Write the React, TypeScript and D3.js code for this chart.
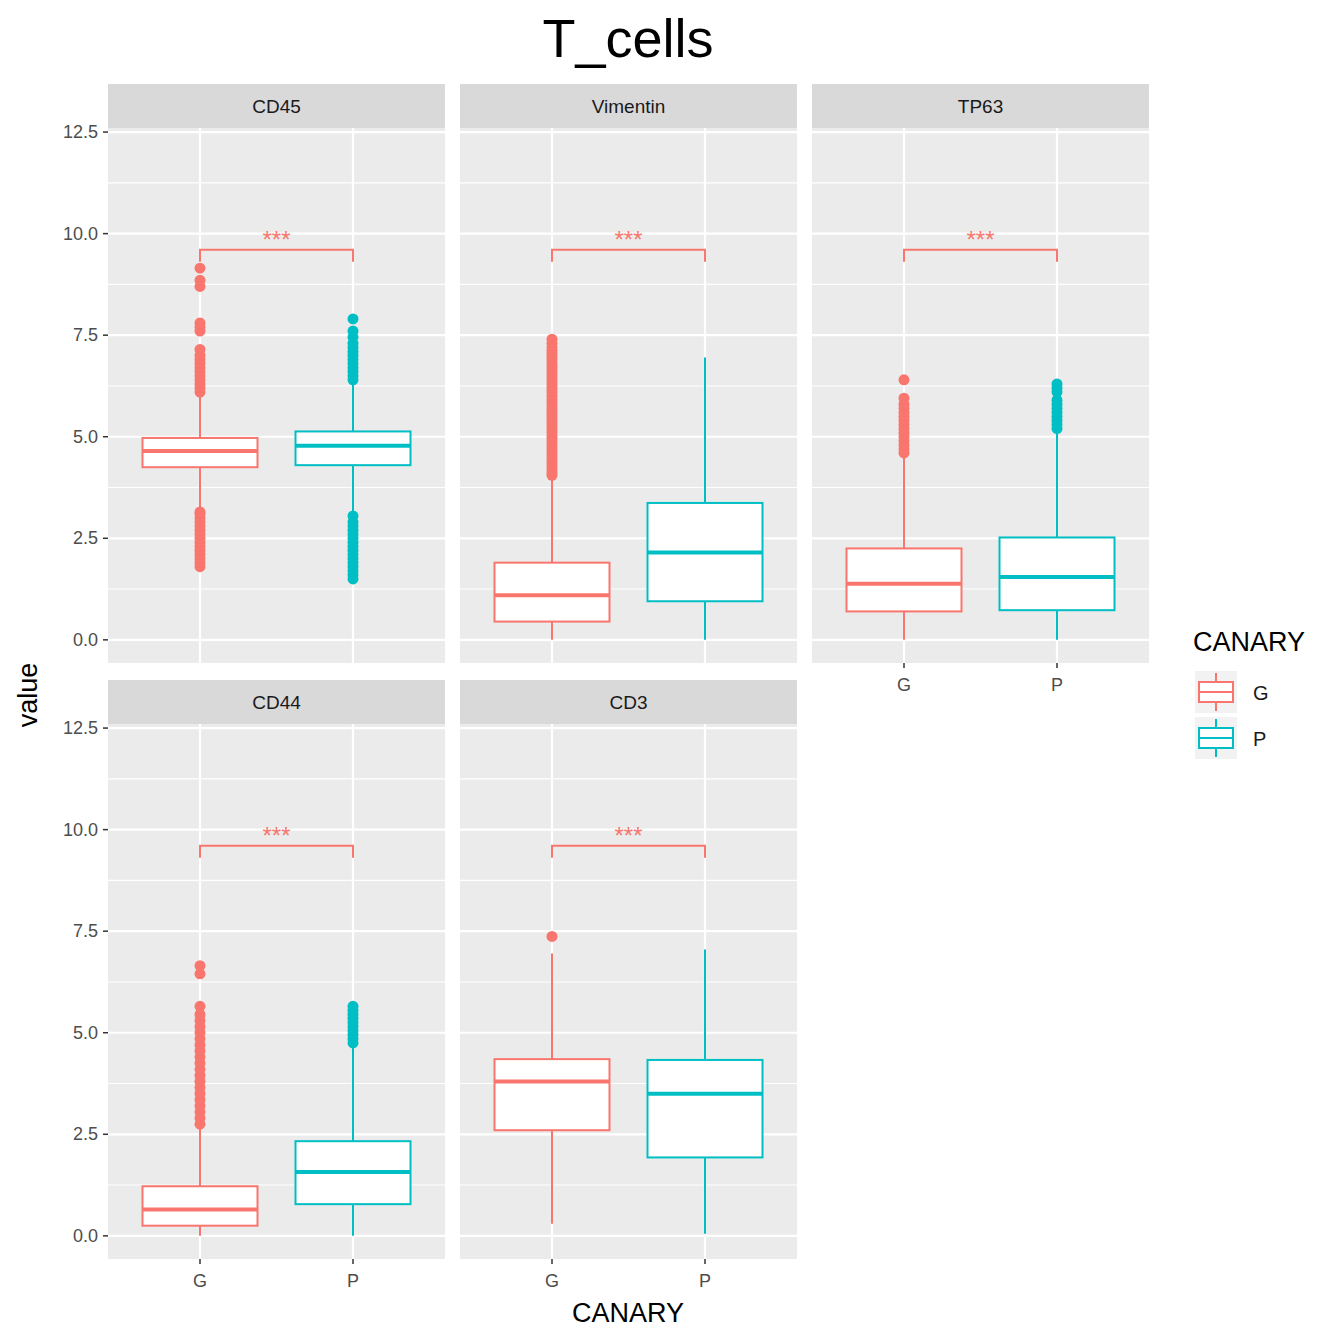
import * as d3 from 'd3';

// ---- data ----
const groups = ['G', 'P'];
const markers = ['CD45', 'Vimentin', 'TP63', 'CD44', 'CD3'];
const yTicks = [0, 2.5, 5, 7.5, 10, 12.5];
const yMinor = [1.25, 3.75, 6.25, 8.75, 11.25];
const signif = ['***', '***', '***', '***', '***'];

// [lowWhisker, q1, median, q3, highWhisker] per marker, G then P
const statsG = [
  [3.2, 4.25, 4.65, 4.97, 6.05],
  [0, 0.45, 1.1, 1.9, 4.0],
  [0, 0.7, 1.38, 2.25, 4.55],
  [0, 0.25, 0.65, 1.22, 2.7],
  [0.3, 2.6, 3.8, 4.35, 6.95],
];
const statsP = [
  [3.1, 4.3, 4.78, 5.13, 6.35],
  [0, 0.95, 2.15, 3.37, 6.95],
  [0, 0.73, 1.55, 2.52, 5.15],
  [0, 0.78, 1.57, 2.33, 4.7],
  [0.05, 1.93, 3.5, 4.33, 7.05],
];
const outliersG = [
  [1.8, 1.9, 2.0, 2.1, 2.2, 2.3, 2.4, 2.5, 2.6, 2.7, 2.8, 2.9, 3.0, 3.1, 3.15,
    6.1, 6.2, 6.3, 6.4, 6.5, 6.6, 6.7, 6.8, 6.9, 7.0, 7.15, 7.6, 7.7, 7.8, 8.7, 8.85, 9.15],
  [4.05, 4.12, 4.2, 4.28, 4.35, 4.42, 4.5, 4.58, 4.65, 4.72, 4.8, 4.88, 4.95, 5.02,
    5.1, 5.18, 5.25, 5.32, 5.4, 5.48, 5.55, 5.62, 5.7, 5.78, 5.85, 5.92, 6.0, 6.08,
    6.15, 6.22, 6.3, 6.38, 6.45, 6.52, 6.6, 6.68, 6.75, 6.82, 6.9, 6.98, 7.05, 7.12,
    7.2, 7.3, 7.4],
  [4.6, 4.7, 4.8, 4.9, 5.0, 5.1, 5.2, 5.3, 5.4, 5.5, 5.6, 5.7, 5.8, 5.95, 6.4],
  [2.75, 2.9, 3.05, 3.2, 3.35, 3.5, 3.65, 3.8, 3.95, 4.1, 4.25, 4.4, 4.55, 4.7,
    4.85, 5.0, 5.15, 5.3, 5.45, 5.65, 6.45, 6.65],
  [7.37],
];
const outliersP = [
  [1.5, 1.6, 1.7, 1.8, 1.9, 2.0, 2.1, 2.2, 2.3, 2.4, 2.5, 2.6, 2.7, 2.8, 2.9, 3.05,
    6.4, 6.5, 6.6, 6.7, 6.8, 6.9, 7.0, 7.1, 7.2, 7.3, 7.45, 7.6, 7.9],
  [],
  [5.2, 5.3, 5.4, 5.5, 5.6, 5.7, 5.8, 5.9, 6.1, 6.2, 6.3],
  [4.75, 4.85, 4.95, 5.05, 5.15, 5.25, 5.35, 5.45, 5.55, 5.65],
  [],
];

const COLORS = ['#F8766D', '#00BFC4'];
const W = 1344;
const H = 1344;
const colX = [108, 460, 812];
const panelW = 337;
const rowTop = [128, 724];
const panelH = 535;
const stripH = 44;
const FONT = 'Liberation Sans, Arial, sans-serif';

function Panel({ idx }: { idx: number }) {
  const col = idx % 3;
  const row = Math.floor(idx / 3);
  const x0 = colX[col];
  const y0 = rowTop[row];
  const x = d3.scalePoint<string>().domain(groups).range([x0 + 92, x0 + 245]);
  const y = d3.scaleLinear().domain([-0.57, 12.6]).range([y0 + panelH, y0]);
  const bw = 115;
  const showX = idx >= 2;
  const showY = col === 0;
  const bracketY = y(9.6);
  return (
    <g>
      <rect x={x0} y={y0 - stripH} width={panelW} height={stripH} fill="#D9D9D9" />
      <text x={x0 + panelW / 2} y={y0 - stripH / 2 + 7} textAnchor="middle" fontSize={19} fill="#1A1A1A">
        {markers[idx]}
      </text>
      <rect x={x0} y={y0} width={panelW} height={panelH} fill="#EBEBEB" />
      {yMinor.map((t) => (
        <line key={'m' + t} x1={x0} x2={x0 + panelW} y1={y(t)} y2={y(t)} stroke="#fff" strokeWidth={1.1} />
      ))}
      {yTicks.map((t) => (
        <line key={t} x1={x0} x2={x0 + panelW} y1={y(t)} y2={y(t)} stroke="#fff" strokeWidth={2.2} />
      ))}
      {groups.map((g) => (
        <line key={g} x1={x(g)} x2={x(g)} y1={y0} y2={y0 + panelH} stroke="#fff" strokeWidth={2.2} />
      ))}
      {groups.map((g, gi) => {
        const s = (gi === 0 ? statsG : statsP)[idx];
        const out = (gi === 0 ? outliersG : outliersP)[idx];
        const cx = x(g)!;
        const c = COLORS[gi];
        return (
          <g key={g}>
            <line x1={cx} x2={cx} y1={y(s[0])} y2={y(s[1])} stroke={c} strokeWidth={2} />
            <line x1={cx} x2={cx} y1={y(s[3])} y2={y(s[4])} stroke={c} strokeWidth={2} />
            <rect x={cx - bw / 2} y={y(s[3])} width={bw} height={y(s[1]) - y(s[3])} fill="#fff" stroke={c} strokeWidth={2} />
            <line x1={cx - bw / 2} x2={cx + bw / 2} y1={y(s[2])} y2={y(s[2])} stroke={c} strokeWidth={4} />
            {out.map((v, i) => (
              <circle key={i} cx={cx} cy={y(v)} r={5.5} fill={c} />
            ))}
          </g>
        );
      })}
      <path
        d={`M${x('G')},${bracketY + 12}V${bracketY}H${x('P')}V${bracketY + 12}`}
        fill="none"
        stroke={COLORS[0]}
        strokeWidth={2}
      />
      <text x={(x('G')! + x('P')!) / 2} y={bracketY - 2} textAnchor="middle" fontSize={24} fill={COLORS[0]}>
        {signif[idx]}
      </text>
      {showY &&
        yTicks.map((t) => (
          <g key={'yt' + t}>
            <line x1={x0 - 5} x2={x0} y1={y(t)} y2={y(t)} stroke="#333" strokeWidth={1.5} />
            <text x={x0 - 10} y={y(t) + 6} textAnchor="end" fontSize={18} fill="#4D4D4D">
              {t.toFixed(1)}
            </text>
          </g>
        ))}
      {showX &&
        groups.map((g) => (
          <g key={'xt' + g}>
            <line x1={x(g)} x2={x(g)} y1={y0 + panelH} y2={y0 + panelH + 5} stroke="#333" strokeWidth={1.5} />
            <text x={x(g)} y={y0 + panelH + 28} textAnchor="middle" fontSize={18} fill="#4D4D4D">
              {g}
            </text>
          </g>
        ))}
    </g>
  );
}

function LegendKey({ i }: { i: number }) {
  const kx = 1195;
  const ky = 671 + i * 46;
  const c = COLORS[i];
  return (
    <g>
      <rect x={kx} y={ky} width={42} height={42} fill="#F2F2F2" />
      <line x1={kx + 21} x2={kx + 21} y1={ky + 2} y2={ky + 40} stroke={c} strokeWidth={2} />
      <rect x={kx + 4} y={ky + 11} width={34} height={20} fill="#fff" stroke={c} strokeWidth={2} />
      <line x1={kx + 4} x2={kx + 38} y1={ky + 21} y2={ky + 21} stroke={c} strokeWidth={2} />
      <text x={kx + 58} y={ky + 29} fontSize={20} fill="#1A1A1A">
        {groups[i]}
      </text>
    </g>
  );
}

export default function App() {
  return (
    <svg width={W} height={H} style={{ position: 'absolute', left: 0, top: 0 }} fontFamily={FONT}>
      <rect width={W} height={H} fill="#fff" />
      <text x={628} y={57} textAnchor="middle" fontSize={54} fill="#000">
        T_cells
      </text>
      {markers.map((m, i) => (
        <Panel key={m} idx={i} />
      ))}
      <text x={628} y={1322} textAnchor="middle" fontSize={27} fill="#000">
        CANARY
      </text>
      <text transform="translate(37,695) rotate(-90)" textAnchor="middle" fontSize={27} fill="#000">
        value
      </text>
      <text x={1193} y={651} fontSize={27} fill="#000">
        CANARY
      </text>
      <LegendKey i={0} />
      <LegendKey i={1} />
    </svg>
  );
}
